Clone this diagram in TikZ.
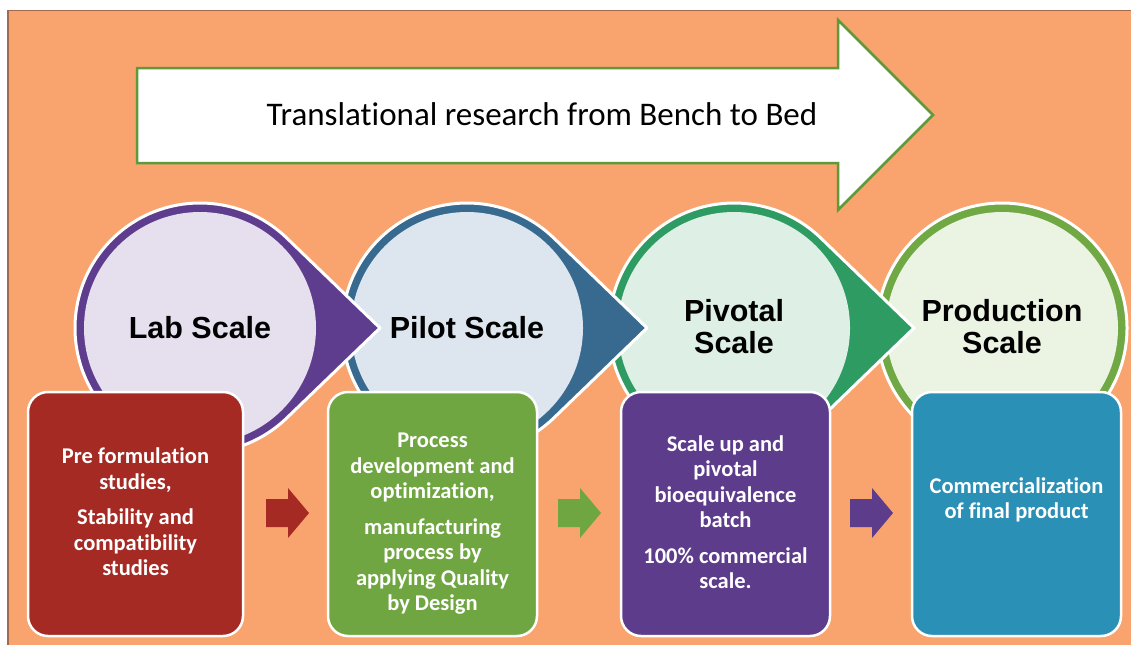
\documentclass[tikz,border=0pt]{standalone}
\usepackage{fontspec}
\setmainfont{Carlito}[Ligatures=NoCommon]
\newfontfamily\headfont{Liberation Sans}
\usetikzlibrary{calc}

\definecolor{bgorange}{RGB}{249,164,110}
\definecolor{edgebrown}{RGB}{160,105,80}
\definecolor{arrowgreen}{RGB}{94,154,60}
\definecolor{labring}{RGB}{95,61,142}
\definecolor{labfill}{RGB}{230,224,238}
\definecolor{pilotring}{RGB}{56,106,144}
\definecolor{pilotfill}{RGB}{221,230,238}
\definecolor{pivotring}{RGB}{46,156,98}
\definecolor{pivotfill}{RGB}{222,240,230}
\definecolor{prodring}{RGB}{112,168,68}
\definecolor{prodfill}{RGB}{235,243,227}
\definecolor{labbox}{RGB}{165,42,36}
\definecolor{pilotbox}{RGB}{112,166,65}
\definecolor{pivotbox}{RGB}{94,60,140}
\definecolor{prodbox}{RGB}{42,144,181}

\tikzset{
  ringedge/.style={draw=white, line width=3pt, line join=round},
  stagebox/.style={draw=white, line width=2.5pt, rounded corners=20pt},
  boxtext/.style={text=white, font=\bfseries\fontsize{22.5}{25.5}\selectfont, align=center},
  scaletext/.style={font=\headfont\bfseries\fontsize{30.5}{32}\selectfont, align=center},
}

\begin{document}
\begin{tikzpicture}[x=1pt,y=-1pt]
\useasboundingbox (0,0) rectangle (1131,645);
\fill[white] (0,0) rectangle (1131,645);
\fill[bgorange] (8,10.5) rectangle (1131,645);
\draw[edgebrown, line width=1.5pt] (8,645) -- (8,10.5) -- (1131,10.5);

\draw[arrowgreen, line width=2.5pt, fill=white] (137,68) -- (838,68) -- (838,20) -- (933,115) -- (838,210) -- (838,163) -- (137,163) -- cycle;
\node (title) at (542,114) {\fontsize{33}{36}\selectfont Translational research from Bench to Bed};

\coordinate (lab) at (200,328);
\coordinate (pilot) at (467,328);
\coordinate (pivot) at (734,328);
\coordinate (prod) at (1002,328);
\coordinate (labtip) at (380,328);
\coordinate (pilottip) at (647,328);
\coordinate (pivottip) at (914,328);

\filldraw[ringedge, fill=prodring] (prod) circle[radius=125];
\fill[prodfill] (prod) circle[radius=116];

\filldraw[ringedge, fill=pivotring] (pivottip) -- ($(pivot)+(46:125)$) arc[start angle=46, end angle=314, radius=125] -- cycle;
\fill[pivotfill] (pivot) circle[radius=116];

\filldraw[ringedge, fill=pilotring] (pilottip) -- ($(pilot)+(46:125)$) arc[start angle=46, end angle=314, radius=125] -- cycle;
\fill[pilotfill] (pilot) circle[radius=116];

\filldraw[ringedge, fill=labring] (labtip) -- ($(lab)+(46:125)$) arc[start angle=46, end angle=314, radius=125] -- cycle;
\fill[labfill] (lab) circle[radius=116];

\node[scaletext] (labname) at (lab) {Lab Scale};
\node[scaletext] (pilotname) at (pilot) {Pilot Scale};
\node[scaletext] (pivotname) at (734,327) {Pivotal\\Scale};
\node[scaletext] (prodname) at (1002,327) {Production\\Scale};

\filldraw[stagebox, fill=labbox] (28,392) rectangle (243,636);
\filldraw[stagebox, fill=pilotbox] (328,392) rectangle (537,636);
\filldraw[stagebox, fill=pivotbox] (621,392) rectangle (830,636);
\filldraw[stagebox, fill=prodbox] (912,392) rectangle (1121,636);

\node[boxtext] (labtext) at (135.5,512) {Pre formulation\\studies,\\[10pt]Stability and\\compatibility\\studies};
\node[boxtext] (pilottext) at (432.5,524) {Process\\development and\\optimization,\\[10pt]manufacturing\\process by\\applying Quality\\by Design};
\node[boxtext] (pivottext) at (725.5,512) {Scale up and\\pivotal\\bioequivalence\\batch\\[10pt]100\% commercial\\scale.};
\node[boxtext] (prodtext) at (1016.5,500) {Commercialization\\of final product};

\fill[labbox] (266,499) -- (288,499) -- (288,488) -- (309,513) -- (288,538) -- (288,527) -- (266,527) -- cycle;
\fill[pilotbox] (558,499) -- (580,499) -- (580,488) -- (601,513) -- (580,538) -- (580,527) -- (558,527) -- cycle;
\fill[pivotbox] (850,499) -- (872,499) -- (872,488) -- (893,513) -- (872,538) -- (872,527) -- (850,527) -- cycle;
\end{tikzpicture}
\end{document}
